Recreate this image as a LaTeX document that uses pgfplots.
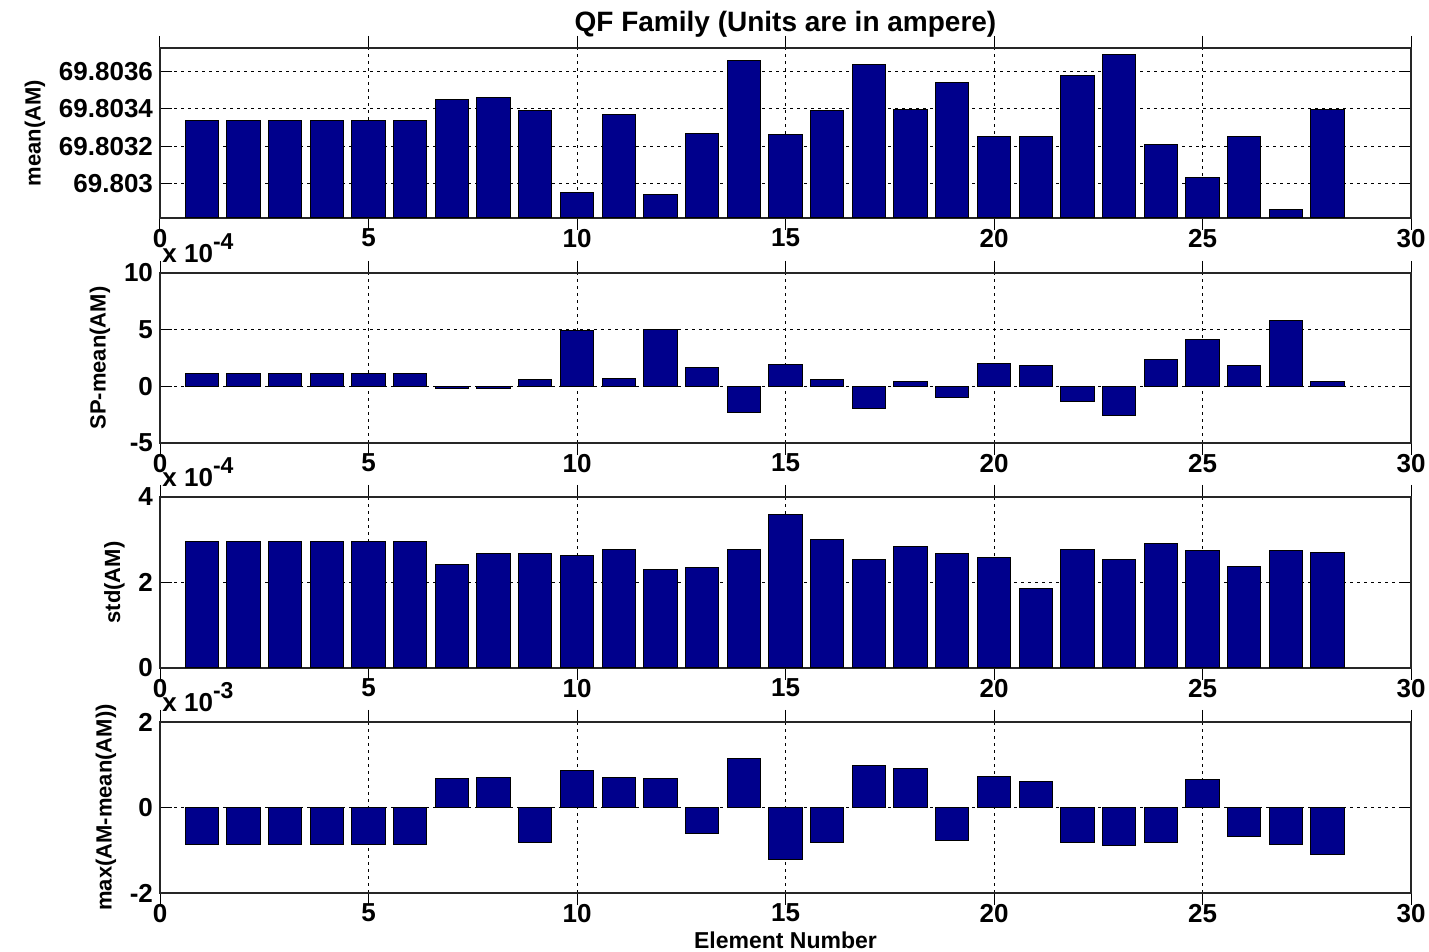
\documentclass[border=0pt]{standalone}
\usepackage{pgfplots}
\pgfplotsset{compat=1.18}
\usepackage{fontspec}
\setmainfont{Liberation Sans}

\definecolor{barblue}{RGB}{0,0,140}

\newcommand{\tickfont}{\bfseries\fontsize{13}{15}\selectfont}
\newcommand{\labelfont}{\bfseries\fontsize{11}{13}\selectfont}

\pgfplotsset{
  panel/.style={
    scale only axis, width=625.5pt,
    anchor=south west,
    clip mode=individual,
    xmin=0, xmax=30,
    xtick={0,5,...,30}, xticklabels={0,5,10,15,20,25,30},
    grid=major,
    major grid style={black, line width=0.5pt, dash pattern=on 1.5pt off 2pt},
    axis line style={black!85, line width=0.7pt},
    tick style={black, line width=0.5pt},
    major tick length=6pt, tick align=inside,
    ybar, bar width=0.8,
    tick label style={font=\tickfont},
    xticklabel style={yshift=4pt},
    ylabel style={font=\labelfont},
  },
  bars/.style={fill=barblue, draw=black, line width=0.5pt},
}

% scale factor label above the upper left corner of an axis
\newcommand{\scalelabel}[1]{%
  \node[anchor=base west, font=\tickfont, inner sep=0pt]
    at (rel axis cs:0,1) [xshift=1pt, yshift=5pt]
    {x 10\raisebox{6.5pt}{\fontsize{11.5}{13}\selectfont #1}};}

\begin{document}
\begin{tikzpicture}
\path[use as bounding box] (0,0) rectangle (714.5pt,476pt);

% mean current, stored as (value - 69.802) in units of 1e-4 A
\begin{axis}[panel, at={(80pt,367pt)}, height=85pt,
  ymin=8.15, ymax=17.26,
  ytick={10,12,14,16}, yticklabels={69.803,69.8032,69.8034,69.8036},
  ylabel={mean(AM)},
  title={QF Family (Units are in ampere)},
  title style={font=\bfseries\fontsize{14}{16}\selectfont, yshift=-4pt}]
\addplot[bars] coordinates {
 (1,13.4) (2,13.4) (3,13.4) (4,13.4) (5,13.4) (6,13.4) (7,14.5)
 (8,14.6) (9,13.9) (10,9.5) (11,13.7) (12,9.4) (13,12.7) (14,16.6)
 (15,12.6) (16,13.9) (17,16.4) (18,13.95) (19,15.4) (20,12.5) (21,12.5)
 (22,15.8) (23,16.9) (24,12.1) (25,10.3) (26,12.5) (27,8.6) (28,13.95)};
\end{axis}

% set point minus mean, x 1e-4
\begin{axis}[panel, at={(80pt,254.5pt)}, height=85pt,
  ymin=-5, ymax=10,
  ytick={-5,0,5,10}, yticklabels={-5,0,5,10},
  ylabel={SP-mean(AM)}]
\addplot[bars] coordinates {
 (1,1.1) (2,1.1) (3,1.1) (4,1.1) (5,1.1) (6,1.1) (7,-0.15)
 (8,-0.15) (9,0.6) (10,4.9) (11,0.7) (12,5.0) (13,1.7) (14,-2.3)
 (15,1.9) (16,0.6) (17,-2.0) (18,0.4) (19,-0.95) (20,2.0) (21,1.85)
 (22,-1.35) (23,-2.55) (24,2.4) (25,4.1) (26,1.85) (27,5.8) (28,0.4)};
\scalelabel{-4}
\end{axis}

% standard deviation, x 1e-4
\begin{axis}[panel, at={(80pt,142pt)}, height=85.5pt,
  ymin=0, ymax=4,
  ytick={0,2,4}, yticklabels={0,2,4},
  ylabel={std(AM)}]
\addplot[bars] coordinates {
 (1,2.95) (2,2.95) (3,2.95) (4,2.95) (5,2.95) (6,2.95) (7,2.43)
 (8,2.68) (9,2.68) (10,2.64) (11,2.78) (12,2.31) (13,2.34) (14,2.78)
 (15,3.59) (16,3.0) (17,2.54) (18,2.85) (19,2.68) (20,2.58) (21,1.85)
 (22,2.78) (23,2.54) (24,2.92) (25,2.75) (26,2.37) (27,2.75) (28,2.71)};
\scalelabel{-4}
\end{axis}

% largest deviation from the mean, x 1e-3
\begin{axis}[panel, at={(80pt,29.5pt)}, height=85.5pt,
  ymin=-2, ymax=2,
  ytick={-2,0,2}, yticklabels={-2,0,2},
  ylabel={max(AM-mean(AM))},
  xlabel={Element Number},
  xlabel style={font=\bfseries\fontsize{11.5}{13}\selectfont, yshift=2pt}]
\addplot[bars] coordinates {
 (1,-0.87) (2,-0.87) (3,-0.87) (4,-0.87) (5,-0.87) (6,-0.87) (7,0.67)
 (8,0.70) (9,-0.82) (10,0.87) (11,0.70) (12,0.67) (13,-0.61) (14,1.15)
 (15,-1.21) (16,-0.82) (17,0.98) (18,0.91) (19,-0.78) (20,0.73) (21,0.60)
 (22,-0.82) (23,-0.89) (24,-0.82) (25,0.66) (26,-0.68) (27,-0.86) (28,-1.10)};
\scalelabel{-3}
\end{axis}
\end{tikzpicture}
\end{document}
